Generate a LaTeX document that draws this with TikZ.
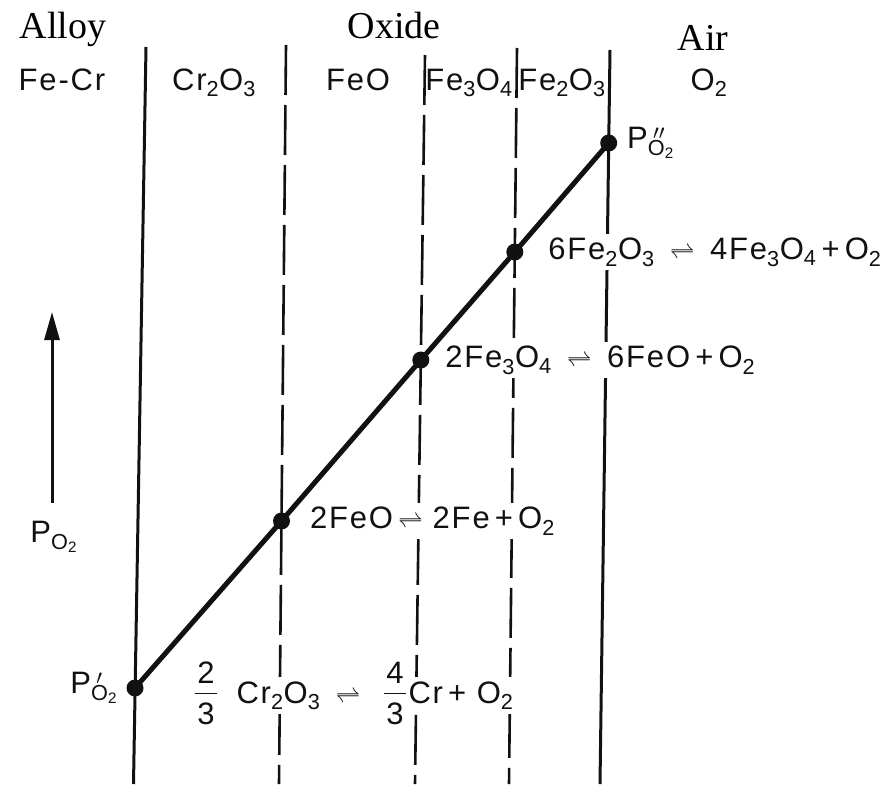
\documentclass[tikz,border=0pt]{standalone}
\usepackage{fontspec}
\setmainfont{Liberation Serif}
\setsansfont{Liberation Sans}
\newfontfamily\chemsf{Liberation Sans}[LetterSpace=6]
\usetikzlibrary{arrows.meta, positioning, calc}
\definecolor{cink}{HTML}{111111}
\newcommand{\pox}[1]{P\rlap{\,$^{#1}$}\textsubscript{O\textsubscript{2}}}
\newcommand{\rlh}{$\rightleftharpoons$}
\tikzset{
  every picture/.style={x=1pt, y=-1pt, line width=3pt},
  zone/.style={font=\fontsize{38}{40}\selectfont, inner sep=0pt, anchor=base},
  phase/.style={font=\chemsf\fontsize{31}{34}\selectfont, inner sep=1pt, text=cink},
  eqn/.style={phase, fill=white, inner sep=4pt},
  digit/.style={phase, inner sep=1pt},
  wall/.style={draw=cink, line width=3pt},
  front/.style={draw=cink, line width=2.6pt, dash pattern=on 50pt off 10pt},
  dot/.style={circle, fill=cink, inner sep=0pt, minimum size=17pt},
  grad/.style={draw=cink, line width=5pt, line join=round},
  fracbar/.style={draw=cink, line width=1.6pt},
  arrow/.style={-{Triangle[length=28pt, width=15pt]}, draw=cink, line width=3pt},
}

\begin{document}
\begin{tikzpicture}
  \useasboundingbox (0,0) rectangle (888,784);
  % headings
  \node[zone] (alloy) at (63,38) {Alloy};
  \node[zone] (oxide) at (394,38) {Oxide};
  \node[zone] (air) at (703,51) {Air};
  % interfaces
  \coordinate (w1t) at (146,47);  \coordinate (w1b) at (133.5,784);
  \coordinate (w2t) at (610,50);  \coordinate (w2b) at (600,784);
  \draw[wall] (w1t) -- (w1b);
  \draw[wall] (w2t) -- (w2b);
  \foreach \n/\xt/\yt/\xb in {f1/286/45/279, f2/425/55/415, f3/517/48/509} {
    \coordinate (\n t) at (\xt,\yt); \coordinate (\n b) at (\xb,784);
    \draw[front] (\n t) -- (\n b);
  }
  % phases
  \foreach \lbl/\x [count=\i] in {Fe-Cr/62, Cr\textsubscript{2}O\textsubscript{3}/214, FeO/358,
      Fe\textsubscript{3}O\textsubscript{4}/469, Fe\textsubscript{2}O\textsubscript{3}/562, O\textsubscript{2}/709}
    \node[phase, anchor=base] (ph\i) at (\x,90) {\lbl};
  % equilibria along the gradient
  \node[dot] (pa) at (135,688) {};
  \node[dot] (d1) at (281.5,521) {};
  \node[dot] (d2) at (420.8,360) {};
  \node[dot] (d3) at (514.8,252) {};
  \node[dot] (pb) at (608.7,143) {};
  % chromia: fractions set as numerator / denominator with a bar
  \node[digit] (nu1) at (206,673) {2};
  \node[digit] (de1) at (206,714) {3};
  \node[eqn, anchor=base west] (e0a) at (231,703) {Cr\textsubscript{2}O\textsubscript{3}\enspace\rlh};
  \node[digit] (nu2) at (395,673) {4};
  \node[digit] (de2) at (395,714) {3};
  \node[eqn, anchor=base west] (e0b) at (403,703) {Cr\,+ O\textsubscript{2}};
  \draw[fracbar] ($(nu1.south west)!0.5!(de1.north west)$) -- ($(nu1.south east)!0.5!(de1.north east)$);
  \draw[fracbar] ($(nu2.south west)!0.5!(de2.north west)$) -- ($(nu2.south east)!0.5!(de2.north east)$);
  \node[eqn, right=13pt of d1] (e1) {2FeO\,\rlh\hspace{10pt}2Fe\,+\,O\textsubscript{2}};
  \node[eqn, right=9pt of d2] (e2) {2Fe\textsubscript{3}O\textsubscript{4}\enspace\rlh\enspace 6FeO\,+\,O\textsubscript{2}};
  \node[eqn, right=18pt of d3] (e3) {6Fe\textsubscript{2}O\textsubscript{3}\enspace\rlh\enspace 4Fe\textsubscript{3}O\textsubscript{4}\,+\,O\textsubscript{2}};
  \draw[grad] (pa.center) -- (d1.center) -- (d2.center) -- (d3.center) -- (pb.center);
  \node[phase, left=5pt of pa] (palab) {\pox{\prime}};
  \node[phase, right=6pt of pb] (pblab) {\pox{\prime\prime}};
  % oxygen pressure axis
  \coordinate (pt0) at (52,503); \coordinate (pt1) at (52,312);
  \draw[arrow] (pt0) -- (pt1);
  \node[phase] (plab) at (54,537) {P\textsubscript{O\textsubscript{2}}};
\end{tikzpicture}
\end{document}
